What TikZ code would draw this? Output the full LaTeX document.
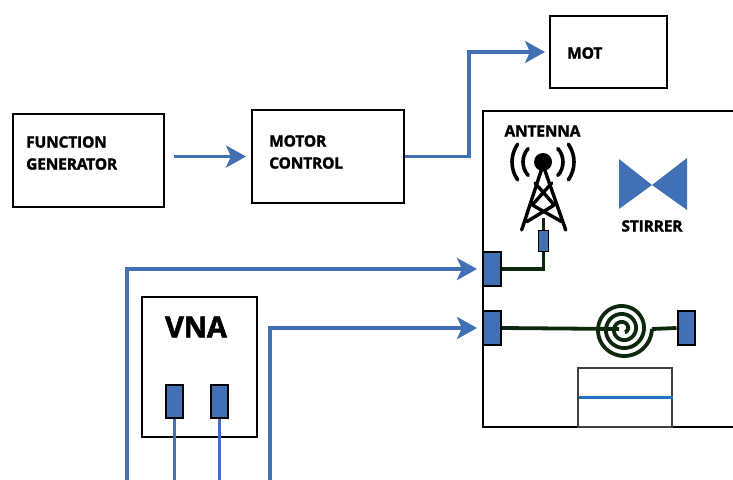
\documentclass[tikz,border=0pt]{standalone}
\usepackage{fontspec}
\setmainfont{Open Sans}[BoldFeatures={FakeBold=1.8,LetterSpace=-1}]
\usetikzlibrary{calc, arrows.meta, positioning}
\definecolor{cableblue}{RGB}{66, 112, 180}
\definecolor{wiregreen}{RGB}{14, 40, 12}
\definecolor{trayblue}{RGB}{30, 115, 190}
\tikzset{
    rectanglenode/.style = {draw, rectangle, line width=2pt, inner sep = 0em, node distance=0em},
    portnode/.style = {rectanglenode, fill=cableblue, line width=2pt},
    textnode/.style  = {draw=none, fill=none, rectangle, inner sep = 0em, node distance=0em, 
      align=left, font=\fontsize{15.5}{22}\selectfont\bfseries},
    connect/.style = {cableblue, line width=3.8pt, -{Stealth[length=20pt, width=22pt, inset=5pt]}},
    cable/.style = {cableblue, line width=3.8pt},
    wire/.style = {wiregreen, line width=3.8pt},
    tower/.style = {black, line width=3.4pt, line cap=round, line join=round},
    wave/.style = {black, line width=3.6pt, line cap=round}
}
\begin{document}
\begin{tikzpicture}[x=1pt, y=-1pt]
\useasboundingbox (0,0) rectangle (733,479);
\clip (0,0) rectangle (733,479);

\node[rectanglenode, name=fg, minimum width=151pt, minimum height=93pt] at (88.5,160.5) {};
\node[textnode, anchor=west] at (26,153) {FUNCTION\\GENERATOR};
\node[rectanglenode, name=motor, minimum width=152pt, minimum height=93pt] at (328,156.5) {};
\node[textnode, anchor=west] at (269,152) {MOTOR\\CONTROL};
\node[rectanglenode, name=mot, minimum width=117pt, minimum height=72pt] at (608.5,52) {};
\node[textnode, anchor=west] at (567,53) {MOT};

\node[rectanglenode, name=chamber, minimum width=300pt, minimum height=316pt] at (633,269) {};
\node[textnode, anchor=center] at (542.5,131) {ANTENNA};
\node[textnode, anchor=center] at (652,226) {STIRRER};
\fill[cableblue] (619,159) -- (652,185) -- (687,158) -- (687,210) -- (652,185) -- (619,209) -- cycle;

\node[rectanglenode, name=vna, minimum width=115pt, minimum height=140pt] at (199.5,367) {};
\node[textnode, font=\fontsize{29}{30}\selectfont\bfseries, anchor=center] at (196,327) {VNA};
\node[portnode, name=vnaA, minimum width=17pt, minimum height=33pt] at (174.5,401.5) {};
\node[portnode, name=vnaB, right of = vnaA, xshift=45pt, minimum width=17pt, minimum height=33pt] {};

\node[portnode, name=portA, minimum width=18pt, minimum height=34pt] at (492,269) {};
\node[portnode, name=portB, below of = portA, yshift=-59pt, minimum width=18pt, minimum height=34pt] {};
\node[portnode, name=portC, right of = portB, xshift=194pt, minimum width=17pt, minimum height=34pt] {};
\node[portnode, name=antport, minimum width=10pt, minimum height=21pt, line width=1.6pt] at (543.5,241) {};

\node[rectanglenode, name=tray, line width=1.4pt, draw=black!75, minimum width=94pt, minimum height=59pt] at (625,397.5) {};
\draw[trayblue, line width=2.4pt] ($(tray.west)+(2,0)$) -- (tray.east);

% antenna
\draw[wire] (antport.north) -- (543.5,218);
\fill (543,162) circle (9pt);
\draw[tower] (543,165) -- (521.7,230) (543,165) -- (565.7,230);
\draw[tower] (535,183) -- (554.3,205) -- (526.7,221.7) (551.7,183) -- (532.3,205) -- (561.7,221.7);
\foreach \rad/\ang in {20/42, 31/35} {
  \draw[wave] ($(543,162)+(180-\ang:\rad)$) arc[start angle=180-\ang, end angle=180+\ang, radius=\rad];
  \draw[wave] ($(543,162)+(\ang:\rad)$) arc[start angle=\ang, end angle=-\ang, radius=\rad];
}

% spiral
\coordinate (spiralmid) at (619,329);
\draw[wire] plot[smooth, samples=150, domain=300:1440] 
  ({623+(29-8*(1440-\x)/360)*cos(\x)}, {329-(29-8*(1440-\x)/360)*sin(\x)});
\draw[wire] (portB.east) -- (spiralmid);
\draw[wire] (652,329) -- (portC.west);

% wires
\draw[wire] (portA.east) -| (antport.south);

% cables
\coordinate (cableA) at (127,485);
\coordinate (cableB) at (270,485);
\coordinate (knee) at (469,156.5);
\draw[connect, shorten <=9pt, shorten >=5pt] (motor.west -| fg.east) -- (motor.west);
\draw[connect, shorten >=4pt] (motor.east) -- (knee) |- (mot.west);
\draw[connect, shorten >=5pt] (cableA) |- (portA.west);
\draw[connect, shorten >=5pt] (cableB) |- (portB.west);
\draw[cable] (vnaA.south) -- (vnaA.south |- cableA);
\draw[cable] (vnaB.south) -- (vnaB.south |- cableA);
\end{tikzpicture}
\end{document}
